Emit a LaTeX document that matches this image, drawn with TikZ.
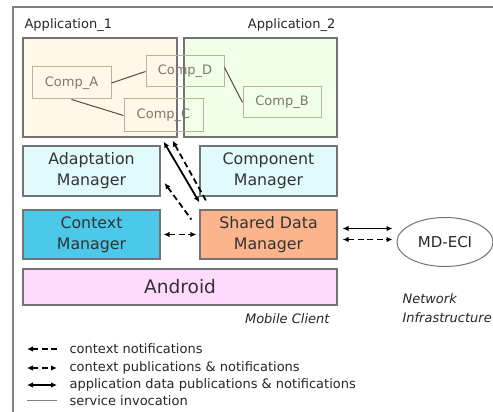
\documentclass[tikz,border=0pt]{standalone}
\usepackage{fontspec}
\setmainfont{DejaVu Sans}
\usetikzlibrary{shapes.geometric,arrows.meta}

\definecolor{appone}{RGB}{255,248,230}
\definecolor{apptwo}{RGB}{241,255,230}
\definecolor{mgrlight}{RGB}{225,251,253}
\definecolor{ctxblue}{RGB}{76,200,232}
\definecolor{sdmorange}{RGB}{251,180,140}
\definecolor{droidpink}{RGB}{255,218,255}
\definecolor{compline}{RGB}{185,180,155}
\definecolor{comptext}{RGB}{125,120,105}

\tikzset{
  appbox/.style={draw=black!55, line width=1.2pt, minimum width=154pt,
    minimum height=99pt},
  comp/.style={draw=compline, line width=1pt, text=comptext,
    minimum width=79pt, minimum height=32pt,
    font=\fontsize{13}{15}\selectfont},
  mgr/.style={draw=black!55, line width=1.2pt, minimum width=137pt,
    minimum height=50pt, align=center, text=black!80,
    font=\fontsize{15.8}{21}\selectfont},
  lbl/.style={text=black!85, font=\fontsize{13}{15}\selectfont},
  appdata/.style={line width=1.8pt,
    {Latex[length=6pt,width=5.5pt]}-{Latex[length=6pt,width=5.5pt]}},
  ctxpub/.style={appdata, dash pattern=on 6pt off 3.5pt},
  ctxnote/.style={line width=1.8pt, dash pattern=on 6pt off 3.5pt,
    {Latex[length=6pt,width=5.5pt]}-}
}

\begin{document}
\begin{tikzpicture}[x=1pt, y=1pt]
\useasboundingbox (0,0) rectangle (493,412);

% outer frame
\draw[black!50, line width=1.5pt] (13,0) -- (13,405) -- (493,405);

% applications
\node[appbox, fill=appone] (app1) at (100,324.5) {};
\node[appbox, fill=apptwo, minimum width=153pt] (app2) at (260.5,324.5) {};
\node[lbl, anchor=south west, inner sep=2pt] at ([yshift=4pt]app1.north west)
  {Application\_1};
\node[lbl, anchor=south east, inner sep=2pt] at ([yshift=4pt]app2.north east)
  {Application\_2};

% components
\node[comp] (compA) at (71.5,329) {Comp\_A};
\node[comp, minimum width=78pt, minimum height=31pt] (compD) at (185,340.5) {Comp\_D};
\node[comp, minimum height=33pt] (compC) at (163.5,296.5) {Comp\_C};
\node[comp, minimum width=78pt, minimum height=31pt] (compB) at (282,309.5) {Comp\_B};

\draw[black!70, line width=1pt] (compA.east) -- (compD.west);
\draw[black!70, line width=1pt] (compA.south) -- (compC.west);
\draw[black!70, line width=1pt] ([yshift=4pt]compD.east) -- (compB.west);

% managers
\node[mgr, fill=mgrlight] (adapt) at (91.5,241) {Adaptation\\Manager};
\node[mgr, fill=mgrlight] (cmgr) at (268.5,241) {Component\\Manager};
\node[mgr, fill=ctxblue, minimum height=49pt] (ctx) at (91.5,177.5) {Context\\Manager};
\node[mgr, fill=sdmorange, minimum height=49pt] (sdm) at (268.5,177.5) {Shared Data\\Manager};
\node[mgr, fill=droidpink, minimum width=314pt, minimum height=36pt,
  font=\fontsize{18.6}{22}\selectfont] (droid) at (180,125) {Android};

\node[lbl, anchor=east, font=\fontsize{13}{15}\selectfont\itshape] (mobile)
  at (333,93) {Mobile Client};

% network side
\node[draw=black!55, line width=1pt, ellipse, minimum width=96pt,
  minimum height=49pt, font=\fontsize{15}{17}\selectfont, text=black!85]
  (mdeci) at (445,170) {MD-ECI};
\node[lbl, anchor=west, align=left, font=\fontsize{13}{19}\selectfont\itshape]
  (netinfra) at (399,103.5) {Network\\Infrastructure};

% connectors
\draw[appdata, shorten <=5pt, shorten >=4pt]
  ([yshift=6pt]sdm.east) -- ([yshift=6pt]sdm.east -| mdeci.west);
\draw[ctxpub, shorten <=5pt, shorten >=4pt]
  ([yshift=-5pt]sdm.east) -- ([yshift=-5pt]sdm.east -| mdeci.west);
\draw[ctxpub, shorten <=3pt, shorten >=3pt] (ctx.east) -- (sdm.west);
\draw[appdata] ([xshift=-14pt,yshift=-4pt]app1.south east)
  -- ([yshift=7pt]sdm.north west);
\draw[ctxnote] ([xshift=-5pt,yshift=-3pt]app1.south east)
  -- ([xshift=7pt,yshift=8pt]sdm.north west);
\draw[ctxnote] ([xshift=4pt,yshift=-12pt]adapt.east)
  -- ([xshift=-8pt,yshift=15pt]sdm.west);

% legend
\node[lbl, anchor=west] (leg1) at (66,63) {context notifications};
\node[lbl, anchor=west] (leg2) at (66,44) {context publications \& notifications};
\node[lbl, anchor=west] (leg3) at (66,27) {application data publications \& notifications};
\node[lbl, anchor=west] (leg4) at (66,11) {service invocation};
\coordinate (k1) at (27,63);
\coordinate (k2) at (27,44);
\coordinate (k3) at (27,27);
\coordinate (k4) at (27,11);
\draw[ctxnote] (k1) -- ([xshift=-9pt]leg1.west);
\draw[ctxpub] (k2) -- ([xshift=-9pt]leg2.west);
\draw[appdata] (k3) -- ([xshift=-9pt]leg3.west);
\draw[black!50, line width=1pt] (k4) -- ([xshift=-9pt]leg4.west);

\end{tikzpicture}
\end{document}
